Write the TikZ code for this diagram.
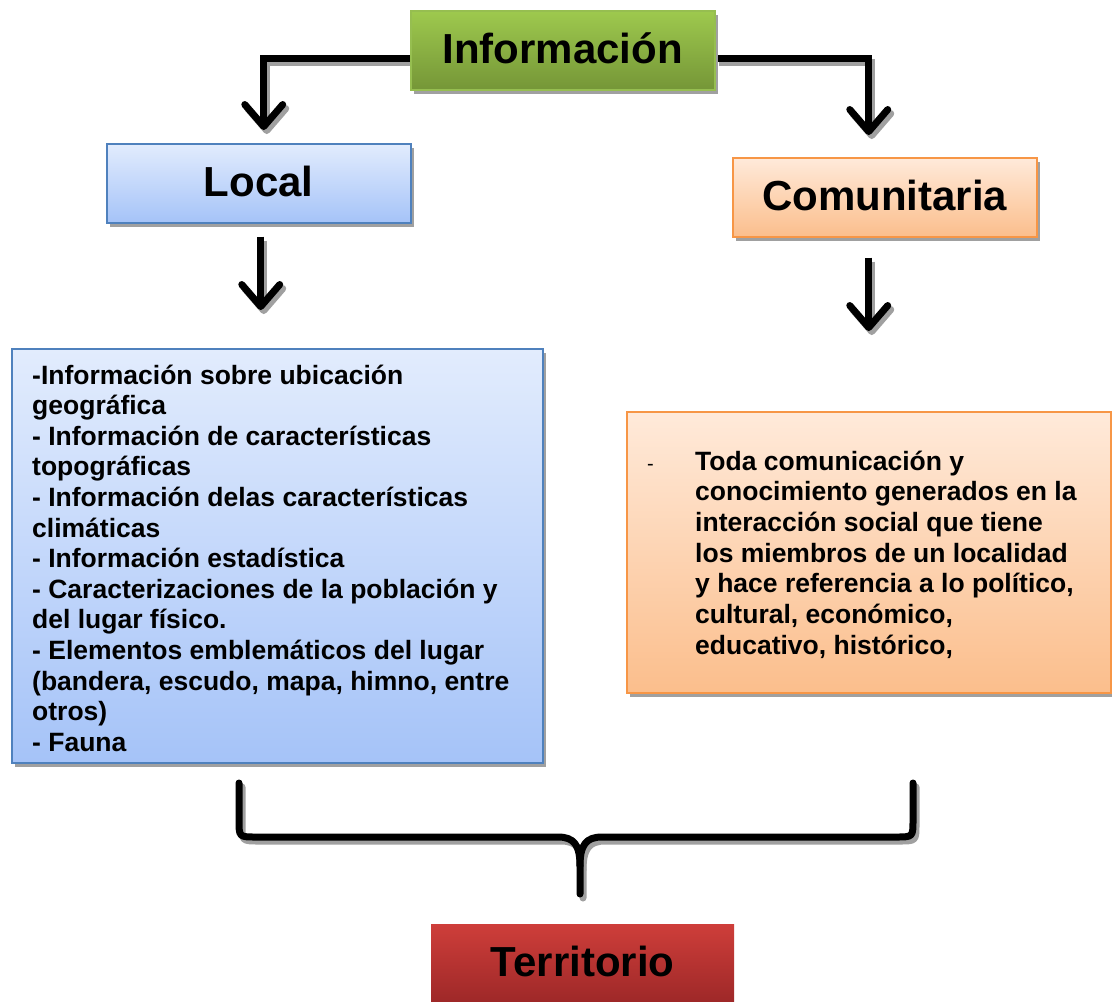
\documentclass[tikz,border=0pt]{standalone}
\usepackage{fontspec}
\setmainfont{Liberation Sans}
\usetikzlibrary{arrows.meta,shadows,backgrounds}
\definecolor{infotop}{RGB}{158,201,78}
\definecolor{infobot}{RGB}{117,150,55}
\definecolor{infoline}{RGB}{150,190,80}
\definecolor{bluetop}{RGB}{226,236,253}
\definecolor{bluebot}{RGB}{165,195,248}
\definecolor{blueline}{RGB}{79,129,189}
\definecolor{orgtop}{RGB}{255,234,218}
\definecolor{orgbot}{RGB}{251,190,140}
\definecolor{orgline}{RGB}{247,150,70}
\definecolor{redtop}{RGB}{206,62,58}
\definecolor{redbot}{RGB}{158,40,40}
\definecolor{shadowgray}{RGB}{160,160,160}
\newcommand{\uptext}[1]{\raisebox{4pt}{#1}}
\begin{document}
\begin{tikzpicture}[x=1pt,y=-1pt,
  boxbase/.style={anchor=north west, inner sep=0pt, line width=1.5pt,
    drop shadow={shadow xshift=3pt,shadow yshift=-4pt,fill=shadowgray,opacity=1}},
  titlefont/.style={font=\fontsize{42}{50}\selectfont\bfseries},
  greenbox/.style={boxbase, titlefont, draw=infoline, top color=infotop, bottom color=infobot},
  bluebox/.style={boxbase, draw=blueline, top color=bluetop, bottom color=bluebot},
  orangebox/.style={boxbase, draw=orgline, top color=orgtop, bottom color=orgbot},
  redbox/.style={anchor=north west, inner sep=0pt, titlefont, top color=redtop, bottom color=redbot},
  conn/.style={line width=7pt, -{Straight Barb[length=22pt,width=38pt,round]}},
  connshadow/.style={conn, draw=shadowgray, transform canvas={xshift=3pt,yshift=-4pt}},
  bracepath/.style={line width=7pt, line cap=round, line join=round},
  bodytext/.style={anchor=base west, inner sep=0pt},
]
\useasboundingbox (0,0) rectangle (1112,1002);
\clip (0,0) rectangle (1112,1002);

% boxes
\node[greenbox, minimum width=304pt, minimum height=79pt] (info) at (410,10) {\uptext{Información}};
\node[bluebox, titlefont, minimum width=304pt, minimum height=79pt] (local) at (106,143) {\uptext{Local}};
\node[orangebox, titlefont, minimum width=304pt, minimum height=79pt] (comu) at (732,157) {\uptext{Comunitaria}};
\node[bluebox, minimum width=531pt, minimum height=414pt] (leftbox) at (11,348) {};
\node[orangebox, minimum width=484pt, minimum height=281pt] (rightbox) at (626,411) {};
\node[redbox, minimum width=303pt, minimum height=78pt] (terr) at (431,924) {\uptext{Territorio}};

% texts
\node[bodytext] (lefttext) at (32,384) {\parbox[t]{510pt}{\raggedright\fontsize{26.5}{30.6}\selectfont\bfseries
-Información sobre ubicación\\
geográfica\\
- Información de características\\
topográficas\\
- Información delas características\\
climáticas\\
- Información estadística\\
- Caracterizaciones de la población y\\
del lugar físico.\\
- Elementos emblemáticos del lugar\\
(bandera, escudo, mapa, himno, entre\\
otros)\\
- Fauna}};
\node[bodytext, font=\fontsize{20}{24}\selectfont] (dash) at (647,470) {-};
\node[bodytext] (righttext) at (695,470) {\parbox[t]{412pt}{\raggedright\fontsize{26.5}{30.7}\selectfont\bfseries
Toda comunicación y\\
conocimiento generados en la\\
interacción social que tiene\\
los miembros de un localidad\\
y hace referencia a lo político,\\
cultural, económico,\\
educativo, histórico,}};

% connectors
\begin{scope}[on background layer]
\fill[white] (0,0) rectangle (1112,1002);
\draw[connshadow, shorten >=13pt] ([yshift=-8pt]info.west) -| ([xshift=5pt]local.north);
\draw[connshadow, shorten >=22pt] ([yshift=-8pt]info.east) -| ([xshift=-16pt]comu.north);
\draw[connshadow, shorten <=13pt, shorten >=38pt] ([xshift=2pt]local.south) -- ([xshift=2pt]local.south |- leftbox.north);
\draw[connshadow, shorten <=20pt, shorten >=80pt] ([xshift=-16pt]comu.south) -- ([xshift=-16pt]comu.south |- rightbox.north);
\begin{scope}[transform canvas={xshift=3pt,yshift=-4pt}]
\draw[bracepath, shadowgray] (239,783) -- (239,820) .. controls (239,837) .. (256,837) -- (558,837) .. controls (574,837) and (580,845) .. (580,866) -- (580,894);
\draw[bracepath, shadowgray] (913,783) -- (913,820) .. controls (913,837) .. (896,837) -- (602,837) .. controls (586,837) and (580,845) .. (580,866);
\end{scope}
\draw[conn, shorten >=13pt] ([yshift=-8pt]info.west) -| ([xshift=5pt]local.north);
\draw[conn, shorten >=22pt] ([yshift=-8pt]info.east) -| ([xshift=-16pt]comu.north);
\draw[conn, shorten <=13pt, shorten >=38pt] ([xshift=2pt]local.south) -- ([xshift=2pt]local.south |- leftbox.north);
\draw[conn, shorten <=20pt, shorten >=80pt] ([xshift=-16pt]comu.south) -- ([xshift=-16pt]comu.south |- rightbox.north);
\draw[bracepath] (239,783) -- (239,820) .. controls (239,837) .. (256,837) -- (558,837) .. controls (574,837) and (580,845) .. (580,866) -- (580,894);
\draw[bracepath] (913,783) -- (913,820) .. controls (913,837) .. (896,837) -- (602,837) .. controls (586,837) and (580,845) .. (580,866);
\end{scope}
\end{tikzpicture}
\end{document}
